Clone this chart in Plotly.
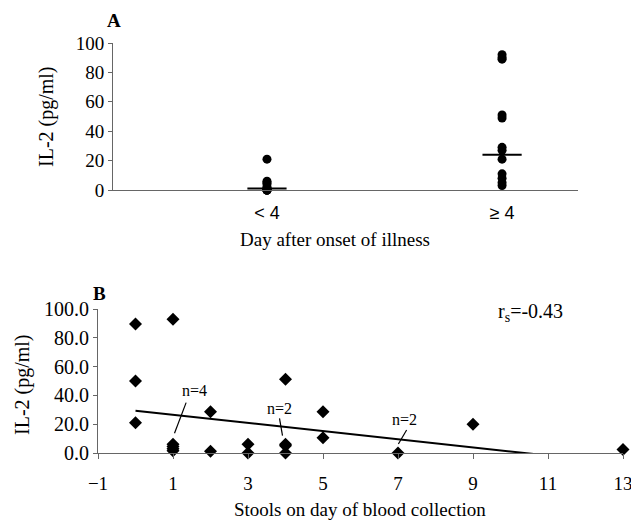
import plotly.graph_objects as go

# ---- Panel A data ----
a_categories = ["< 4", "≥ 4"]
a_group_lt4 = [21, 6, 5, 4, 2, 1, 1, 0, 0, 0, 0, 0]
a_group_ge4 = [92, 90, 89, 51, 49, 29, 27, 21, 11, 8, 5, 3]
a_medians = [1, 24]
a_counts = ["n=12", "n=12"]
a_yticks = [0, 20, 40, 60, 80, 100]

# ---- Panel B data ----
b_x = [0, 0, 0, 1, 1, 1, 1, 1, 2, 2, 3, 3, 4, 4, 4, 4, 5, 5, 7, 9, 10, 11, 13]
b_y = [89.5, 50, 21, 92.8, 6, 4.5, 3, 1.5, 28.7, 1.2, 6, 0, 51.2, 6, 5, 0, 28.7, 10.6, 0, 20, -1, -1.4, 2.5]
trend_x = [0, 10.8]
trend_y = [29.4, -1.2]
b_xticks = [-1, 1, 3, 5, 7, 9, 11, 13]
b_yticks = [0, 20, 40, 60, 80, 100]
b_labels = ["n=4", "n=2", "n=2"]
b_label_x = [1.56, 3.83, 7.16]
b_label_y = [43.7, 31, 23.4]
b_ptr_x0 = [1.35, 3.84, 7.23]
b_ptr_y0 = [35, 24, 16]
b_ptr_x1 = [1.04, 3.92, 7.01]
b_ptr_y1 = [13.7, 12, 6.2]
r_s_text = "r<sub>s</sub>=-0.43"

SERIF = "Liberation Serif"
SANS = "Liberation Sans"
AX = "#666666"

fig = go.Figure()

# Panel A points
fig.add_trace(go.Scatter(x=[1] * len(a_group_lt4), y=a_group_lt4, mode="markers",
                         marker=dict(symbol="circle", size=9, color="black"),
                         cliponaxis=False, xaxis="x", yaxis="y", showlegend=False))
fig.add_trace(go.Scatter(x=[2] * len(a_group_ge4), y=a_group_ge4, mode="markers",
                         marker=dict(symbol="circle", size=9, color="black"),
                         cliponaxis=False, xaxis="x", yaxis="y", showlegend=False))
fig.add_trace(go.Scatter(x=[1, 2], y=a_medians, mode="markers",
                         marker=dict(symbol="line-ew", size=28,
                                     line=dict(width=2, color="black")),
                         cliponaxis=False, xaxis="x", yaxis="y", showlegend=False))

# Panel B points + trend
fig.add_trace(go.Scatter(x=b_x, y=b_y, mode="markers",
                         marker=dict(symbol="diamond", size=10, color="black"),
                         cliponaxis=False, xaxis="x2", yaxis="y2", showlegend=False))
fig.add_trace(go.Scatter(x=trend_x, y=trend_y, mode="lines",
                         line=dict(color="black", width=2),
                         cliponaxis=False, xaxis="x2", yaxis="y2", showlegend=False))

# Pointer lines
for i in range(len(b_labels)):
    fig.add_trace(go.Scatter(x=[b_ptr_x0[i], b_ptr_x1[i]], y=[b_ptr_y0[i], b_ptr_y1[i]],
                             mode="lines", line=dict(color="black", width=1.2),
                             cliponaxis=False, xaxis="x2", yaxis="y2", showlegend=False))

C = dict(showarrow=False, xanchor="center", yanchor="middle")

annotations = []
# n=12 labels
for i, t in enumerate(a_counts):
    annotations.append(dict(x=i + 1, y=103.5, xref="x", yref="y", text=t,
                            font=dict(family=SERIF, size=16, color="black"), **C))
# B labels
for i, t in enumerate(b_labels):
    annotations.append(dict(x=b_label_x[i], y=b_label_y[i], xref="x2", yref="y2", text=t,
                            font=dict(family=SERIF, size=16, color="black"), **C))
annotations.append(dict(x=10.52, y=97.4, xref="x2", yref="y2", text=r_s_text,
                        font=dict(family=SERIF, size=20, color="black"), **C))

# Panel letters
annotations.append(dict(x=114 / 631, y=1 - 20 / 527, xref="paper", yref="paper", text="<b>A</b>",
                        font=dict(family=SERIF, size=19, color="black"), **C))
annotations.append(dict(x=99 / 631, y=1 - 293 / 527, xref="paper", yref="paper", text="<b>B</b>",
                        font=dict(family=SERIF, size=19, color="black"), **C))

# Axis titles
annotations.append(dict(x=46 / 631, y=1 - 117 / 527, xref="paper", yref="paper", text="IL-2 (pg/ml)",
                        textangle=-90, font=dict(family=SERIF, size=20, color="black"), **C))
annotations.append(dict(x=335 / 631, y=1 - 240 / 527, xref="paper", yref="paper",
                        text="Day after onset of illness",
                        font=dict(family=SERIF, size=19, color="black"), **C))
annotations.append(dict(x=22 / 631, y=1 - 385 / 527, xref="paper", yref="paper", text="IL-2 (pg/ml)",
                        textangle=-90, font=dict(family=SERIF, size=20, color="black"), **C))
annotations.append(dict(x=360 / 631, y=1 - 509 / 527, xref="paper", yref="paper",
                        text="Stools on day of blood collection",
                        font=dict(family=SERIF, size=19, color="black"), **C))

common = dict(showgrid=False, zeroline=False, showline=True, linecolor=AX, linewidth=1,
              automargin=False, ticklabeloverflow="allow")

fig.update_layout(
    width=631, height=527,
    margin=dict(l=0, r=0, t=0, b=0, autoexpand=False),
    paper_bgcolor="white", plot_bgcolor="white",
    showlegend=False,
    annotations=annotations,
    xaxis=dict(domain=[113 / 631, 578 / 631], range=[0.345, 2.323],
               tickvals=[1, 2], ticktext=a_categories, ticks="",
               tickfont=dict(family=SANS, size=18, color="black"), ticklabelstandoff=6,
               anchor="y", **common),
    yaxis=dict(domain=[1 - 190 / 527, 1 - 43 / 527], range=[0, 100],
               tickvals=a_yticks, ticks="outside", ticklen=4, tickcolor=AX,
               tickfont=dict(family=SERIF, size=19, color="black"),
               anchor="x", **common),
    xaxis2=dict(domain=[98 / 631, 623 / 631], range=[-1, 13],
                tickvals=b_xticks, ticks="outside", ticklen=5, tickcolor=AX,
                tickfont=dict(family=SERIF, size=19, color="black"), ticklabelstandoff=8,
                anchor="y2", **common),
    yaxis2=dict(domain=[1 - 453 / 527, 1 - 309 / 527], range=[0, 100],
                tickvals=b_yticks, tickformat=".1f", ticks="outside", ticklen=4, tickcolor=AX,
                tickfont=dict(family=SERIF, size=20, color="black"),
                anchor="x2", **common),
)

fig.write_html(
    "out.html",
    config={"responsive": False, "displayModeBar": False},
    post_script="document.body.style.margin='0';document.body.style.overflow='hidden';",
)
